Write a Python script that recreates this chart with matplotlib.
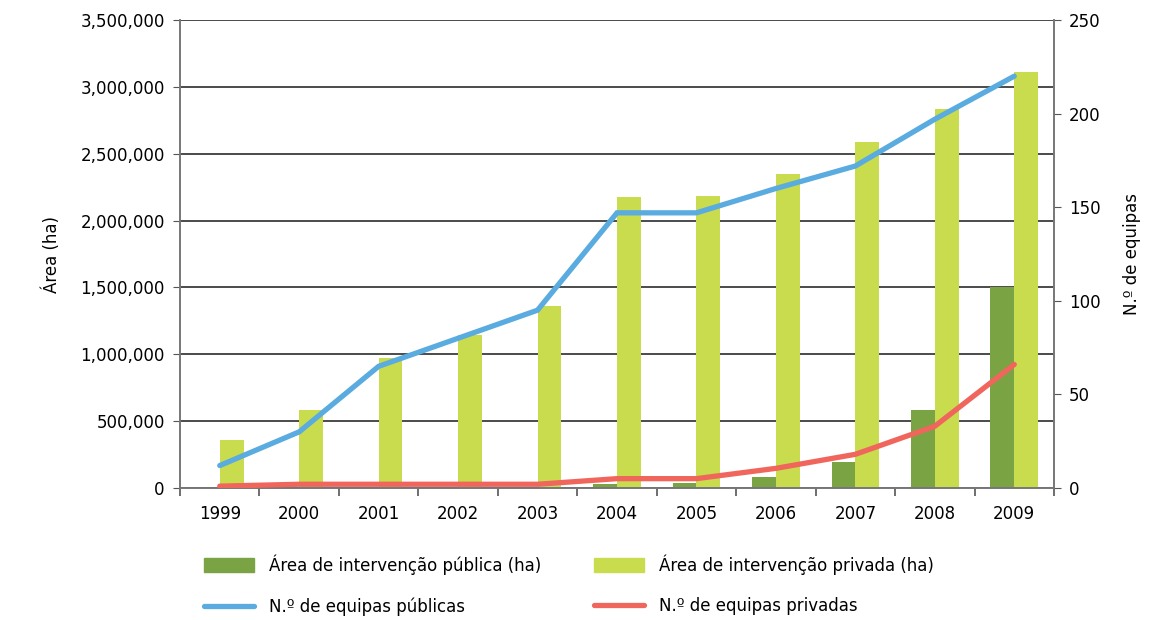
import matplotlib
matplotlib.use("Agg")
import matplotlib.pyplot as plt
import numpy as np
from matplotlib.ticker import FuncFormatter, MultipleLocator
from matplotlib.patches import Patch
from matplotlib.lines import Line2D

plt.rcParams['font.family'] = ['DejaVu Sans']

years = ['1999', '2000', '2001', '2002', '2003', '2004', '2005', '2006', '2007', '2008', '2009']
area_publica = [0, 0, 0, 0, 0, 30000, 40000, 85000, 197000, 583000, 1503000]
area_privada = [360000, 583000, 974000, 1144000, 1363000, 2178000, 2184000, 2348000, 2588000, 2832000, 3111000]
equipas_publicas = [12, 30, 65, 80, 95, 147, 147, 160, 172, 197, 220]
equipas_privadas = [1, 2, 2, 2, 2, 5, 5, 10.5, 18, 33, 66]

c_pub_bar = '#7aa343'
c_priv_bar = '#c8dc4e'
c_pub_line = '#5aabdf'
c_priv_line = '#f0665c'

fig = plt.figure(figsize=(11.51, 6.2), dpi=100)
ax = fig.add_axes([0.1564, 0.2129, 0.7593, 0.7548])
ax2 = ax.twinx()

x = np.arange(len(years))
w = 0.3
ax.bar(x - w / 2, area_publica, width=w, color=c_pub_bar, zorder=2)
ax.bar(x + w / 2, area_privada, width=w, color=c_priv_bar, zorder=2)

ax2.plot(x, equipas_publicas, color=c_pub_line, lw=3.8, solid_capstyle='round', solid_joinstyle='miter', zorder=3)
ax2.plot(x, equipas_privadas, color=c_priv_line, lw=3.8, solid_capstyle='round', solid_joinstyle='miter', zorder=3)

ax.set_xlim(-0.5, len(years) - 0.5)
ax.set_ylim(0, 3500000)
ax2.set_ylim(0, 250)
ax.yaxis.set_major_locator(MultipleLocator(500000))
ax2.yaxis.set_major_locator(MultipleLocator(50))
ax.yaxis.set_major_formatter(FuncFormatter(lambda v, p: f'{int(v):,}'))

ax.grid(axis='y', color='#1a1a1a', lw=1.1, zorder=1)
ax.set_axisbelow(True)

ax.set_xticks(x)
ax.set_xticklabels(years)
ax.set_xticks(np.arange(len(years) + 1) - 0.5, minor=True)
ax.tick_params(axis='x', which='major', length=0, pad=12, labelsize=12)
ax.tick_params(axis='x', which='minor', length=6, color='#555555', width=1.2)
ax.tick_params(axis='y', length=5, color='#555555', labelsize=12, pad=6)
ax2.tick_params(axis='y', length=5, color='#555555', labelsize=12, pad=6)

for a in (ax, ax2):
    a.spines['top'].set_visible(False)
    for s in ('left', 'right', 'bottom'):
        a.spines[s].set_color('#777777')
        a.spines[s].set_linewidth(1.2)

ax.set_ylabel('Área (ha)', fontsize=12, labelpad=14)
ax2.set_ylabel('N.º de equipas', fontsize=12, labelpad=16)

handles = [
    Patch(color=c_pub_bar),
    Line2D([], [], color=c_pub_line, lw=3.8, solid_capstyle='round'),
    Patch(color=c_priv_bar),
    Line2D([], [], color=c_priv_line, lw=3.8, solid_capstyle='round'),
]
labels = ['Área de intervenção pública (ha)', 'N.º de equipas públicas',
          'Área de intervenção privada (ha)', 'N.º de equipas privadas']
fig.legend(handles, labels, ncol=2, loc='upper left', bbox_to_anchor=(0.164, 0.130),
           frameon=False, fontsize=12, handlelength=3.0, handleheight=0.9,
           handletextpad=0.9, columnspacing=3.2, labelspacing=1.35)

fig.savefig('out.png', dpi=100)
